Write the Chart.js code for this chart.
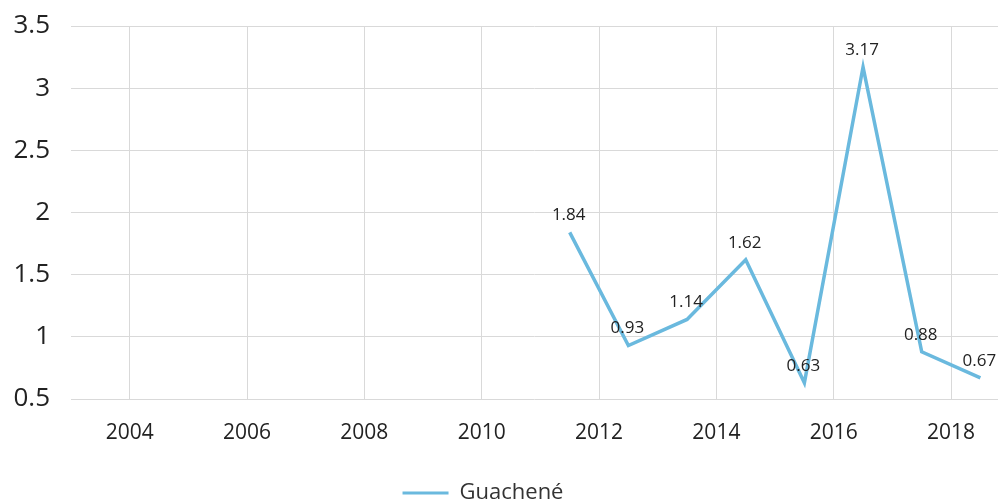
<!DOCTYPE html>
<html>
<head>
<meta charset="utf-8">
<script src="https://cdn.jsdelivr.net/npm/chart.js@4/dist/chart.umd.min.js"></script>
<style>
  html, body { margin: 0; padding: 0; background: #fff; }
  #wrap { width: 998px; height: 504px; }
</style>
</head>
<body>
<div id="wrap"><canvas id="grafico"></canvas></div>
<script>
// valores
const anos = [2011.5, 2012.5, 2013.5, 2014.5, 2015.5, 2016.5, 2017.5, 2018.5];
const valores = [1.84, 0.93, 1.14, 1.62, 0.63, 3.17, 0.88, 0.67];
const rotulos = ['1.84', '0.93', '1.14', '1.62', '0.63', '3.17', '0.88', '0.67'];
const anosEixo = [2004, 2006, 2008, 2010, 2012, 2014, 2016, 2018];
const serieNome = 'Guachené';

const corLinha = 'rgb(106, 185, 222)';
const fonte = '"Open Sans", sans-serif';

// escreve os valores acima de cada ponto
const rotulosPlugin = {
    id: 'rotulos',
    afterLayout(chart) {
        // legenda um pouco à esquerda, como no original
        chart.legend.left -= 16;
        chart.legend.right -= 16;
    },
    afterDatasetsDraw(chart) {
        const ctx = chart.ctx;
        const meta = chart.getDatasetMeta(0);
        ctx.save();
        ctx.font = '17px ' + fonte;
        ctx.fillStyle = '#222';
        ctx.textAlign = 'center';
        ctx.textBaseline = 'middle';
        meta.data.forEach((pt, i) => {
            ctx.fillText(rotulos[i], pt.x - 1, pt.y - 17);
        });
        ctx.restore();
    }
};

new Chart(document.getElementById('grafico'), {
    type: 'line',
    data: {
        datasets: [{
            label: serieNome,
            data: anos.map((a, i) => ({ x: a, y: valores[i] })),
            borderColor: corLinha,
            backgroundColor: corLinha,
            borderWidth: 3.5,
            pointRadius: 0,
            tension: 0
        }]
    },
    options: {
        responsive: true,
        maintainAspectRatio: false,
        animation: false,
        layout: { padding: { top: 26, right: 0, left: 0, bottom: -10 } },
        plugins: {
            legend: {
                position: 'bottom',
                labels: {
                    font: { family: fonte, size: 22 },
                    color: '#333',
                    boxWidth: 46,
                    boxHeight: 3,
                    padding: 3,
                    generateLabels: (chart) => {
                        const itens = Chart.defaults.plugins.legend.labels.generateLabels(chart);
                        itens.forEach(it => { it.lineWidth = 0; it.fillStyle = corLinha; });
                        return itens;
                    }
                }
            },
            tooltip: { enabled: false }
        },
        scales: {
            x: {
                type: 'linear',
                min: 2003,
                max: 2018.8,
                afterBuildTicks: (scale) => {
                    scale.ticks = anosEixo.map(v => ({ value: v }));
                },
                afterFit: (scale) => { scale.height = 80; },
                ticks: {
                    callback: (v) => String(v),
                    font: { family: fonte, size: 21 },
                    color: '#222',
                    padding: 21,
                    maxRotation: 0,
                    autoSkip: false
                },
                grid: { color: '#d9d9d9', lineWidth: 1, drawTicks: false },
                border: { display: false }
            },
            y: {
                min: 0.5,
                max: 3.5,
                afterFit: (scale) => {
                    scale.width = 71;
                    scale.paddingTop = 0;
                    scale.paddingBottom = 0;
                },
                ticks: {
                    stepSize: 0.5,
                    callback: (v) => String(v),
                    font: { family: fonte, size: 26 },
                    color: '#222',
                    padding: 21
                },
                grid: { color: '#d9d9d9', lineWidth: 1, drawTicks: false },
                border: { display: false }
            }
        }
    },
    plugins: [rotulosPlugin]
});
</script>
</body>
</html>
